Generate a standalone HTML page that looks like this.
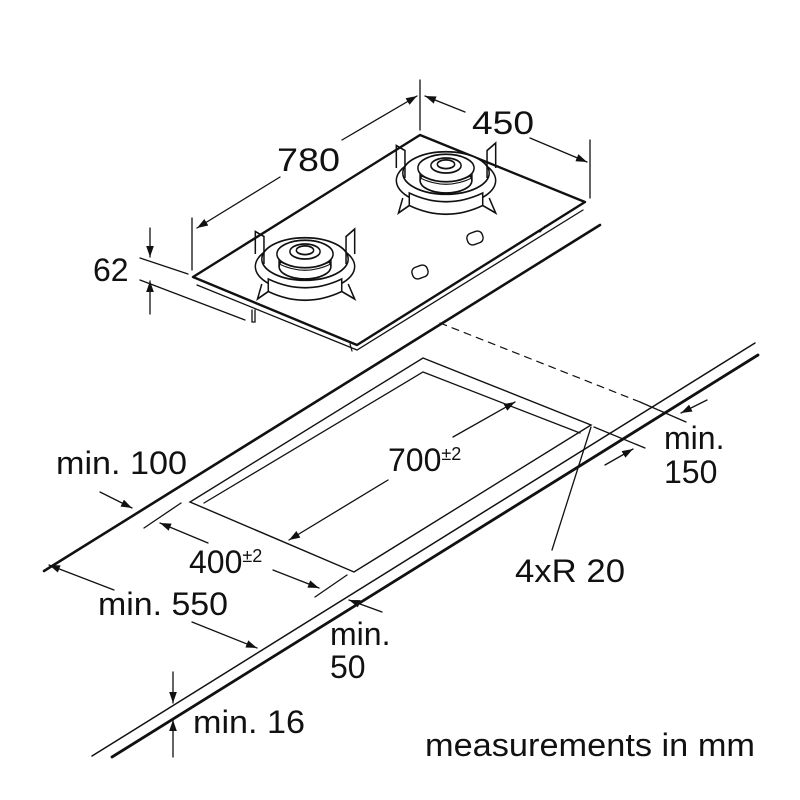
<!DOCTYPE html>
<html><head><meta charset="utf-8"><style>html,body{margin:0;padding:0;background:#fff}svg{display:block}text{font-family:"Liberation Sans",sans-serif;fill:#111}</style></head>
<body>
<svg width="800" height="800" viewBox="0 0 800 800" xmlns="http://www.w3.org/2000/svg">
<defs>
<marker id="a" viewBox="0 0 10 10" refX="10" refY="5" markerWidth="11" markerHeight="11" orient="auto-start-reverse" markerUnits="userSpaceOnUse"><path d="M0,1.5 L10,5 L0,8.5 z" fill="#111"/></marker>
<g id="burner" fill="#fff" stroke="#111" stroke-width="1.4">
<ellipse cx="0" cy="10" rx="46" ry="20"/>
<ellipse cx="0" cy="4" rx="40" ry="17"/>
<rect x="-24" y="-4" width="48" height="14" fill="#fff" stroke="none"/>
<ellipse cx="0" cy="10" rx="24" ry="10"/>
<path d="M-24,2 v8 M24,2 v8" />
<path d="M-24,6 q24,10 48,0 M-24,8 q24,10 48,0" stroke-width="0.9"/>
<ellipse cx="0" cy="0" rx="26" ry="11"/>
<ellipse cx="0" cy="-2" rx="14" ry="6"/>
<ellipse cx="0" cy="-3" rx="8" ry="3.5"/>
<path d="M-34,20 q34,14 68,0 v10 q-34,14 -68,0 z"/>
<path d="M-46,0 l0,-18 l8,4 v22 M46,0 l0,-20 l-8,6 v22 M-40,24 l-4,12 l10,-6 M40,24 l6,12 l-12,-6" fill="none"/>
</g>
</defs>
<g stroke="#111" fill="none" stroke-linecap="round">
<line x1="44" y1="571" x2="600" y2="225" stroke-width="2.6"/>
<line x1="92" y1="756" x2="755" y2="343" stroke-width="1.5"/>
<line x1="112" y1="757" x2="758" y2="355" stroke-width="2.8"/>
<path d="M423,358 L591,425 L354,572 L190,502 Z" stroke-width="1.4"/>
<path d="M204,503 L423,372 L580,433" stroke-width="1.3"/>
<path d="M193,277 L420,135 L585,202 L357,345 Z" stroke-width="2.4" stroke-linejoin="round"/>
<path d="M197,285 L357,350 L583,210" stroke-width="1.3"/>
<path d="M230,292 L248,300 M350,344 L352,351 M540,232 L545,226" stroke-width="1.2"/>
<path d="M252,310 v12 h3 v-12" stroke-width="1.3"/>
<line x1="440" y1="323" x2="640" y2="402" stroke-width="1.2" stroke-dasharray="7,6"/>
<line x1="192" y1="218" x2="192" y2="270" stroke-width="1.3"/>
<line x1="420" y1="80" x2="420" y2="130" stroke-width="1.3"/>
<line x1="280" y1="177" x2="197" y2="228" stroke-width="1.3" marker-end="url(#a)"/>
<line x1="342" y1="140" x2="417" y2="96" stroke-width="1.3" marker-end="url(#a)"/>
<line x1="465" y1="112" x2="425" y2="96" stroke-width="1.3" marker-end="url(#a)"/>
<line x1="530" y1="138" x2="587" y2="162" stroke-width="1.3" marker-end="url(#a)"/>
<line x1="590" y1="140" x2="590" y2="198" stroke-width="1.3"/>
<line x1="140" y1="258" x2="188" y2="274" stroke-width="1.3"/>
<line x1="140" y1="280" x2="245" y2="320" stroke-width="1.3"/>
<line x1="150" y1="228" x2="150" y2="257" stroke-width="1.3" marker-end="url(#a)"/>
<line x1="150" y1="314" x2="150" y2="281" stroke-width="1.3" marker-end="url(#a)"/>
<line x1="453" y1="437" x2="515" y2="402" stroke-width="1.3" marker-end="url(#a)"/>
<line x1="388" y1="480" x2="289" y2="540" stroke-width="1.3" marker-end="url(#a)"/>
<line x1="144" y1="528" x2="181" y2="503" stroke-width="1.3"/>
<line x1="315" y1="597" x2="347" y2="575" stroke-width="1.3"/>
<line x1="208" y1="543" x2="160" y2="523" stroke-width="1.3" marker-end="url(#a)"/>
<line x1="273" y1="570" x2="319" y2="588" stroke-width="1.3" marker-end="url(#a)"/>
<line x1="594" y1="427" x2="645" y2="448" stroke-width="1.3"/>
<line x1="640" y1="402" x2="686" y2="422" stroke-width="1.3"/>
<line x1="707" y1="400" x2="681" y2="413" stroke-width="1.3" marker-end="url(#a)"/>
<line x1="605" y1="465" x2="633" y2="449" stroke-width="1.3" marker-end="url(#a)"/>
<line x1="591" y1="427" x2="552" y2="550" stroke-width="1.3"/>
<line x1="100" y1="492" x2="132" y2="508" stroke-width="1.3" marker-end="url(#a)"/>
<line x1="114" y1="590" x2="49" y2="565" stroke-width="1.3" marker-end="url(#a)"/>
<line x1="192" y1="622" x2="257" y2="648" stroke-width="1.3" marker-end="url(#a)"/>
<line x1="382" y1="612" x2="349" y2="600" stroke-width="1.3" marker-end="url(#a)"/>
<line x1="173" y1="672" x2="173" y2="703" stroke-width="1.3" marker-end="url(#a)"/>
<line x1="173" y1="757" x2="173" y2="720" stroke-width="1.3" marker-end="url(#a)"/>
</g>
<use href="#burner" transform="translate(305,254) scale(1.08,1.25)"/>
<use href="#burner" transform="translate(446,168) scale(1.08,1.25)"/>
<g fill="#fff" stroke="#111" stroke-width="1.4">
<rect x="412" y="266" width="16" height="12" rx="5" transform="rotate(-20 420 272)"/>
<rect x="467" y="232" width="16" height="12" rx="5" transform="rotate(-20 475 238)"/>
</g>
<g font-size="32">
<text x="277" y="171" textLength="63" lengthAdjust="spacingAndGlyphs">780</text>
<text x="472" y="134" textLength="62" lengthAdjust="spacingAndGlyphs">450</text>
<text x="93" y="281">62</text>
<text x="388" y="471">700<tspan font-size="18" dy="-11">±2</tspan></text>
<text x="189" y="573">400<tspan font-size="18" dy="-11">±2</tspan></text>
<text x="56" y="474" textLength="131" lengthAdjust="spacingAndGlyphs">min. 100</text>
<text x="98" y="615" textLength="130" lengthAdjust="spacingAndGlyphs">min. 550</text>
<text x="330" y="645">min.</text>
<text x="330" y="678">50</text>
<text x="664" y="449">min.</text>
<text x="664" y="483">150</text>
<text x="515" y="582" textLength="110" lengthAdjust="spacingAndGlyphs">4xR 20</text>
<text x="193" y="733" textLength="112" lengthAdjust="spacingAndGlyphs">min. 16</text>
<text x="425" y="756" textLength="330" lengthAdjust="spacingAndGlyphs">measurements in mm</text>
</g>
</svg>
</body></html>
